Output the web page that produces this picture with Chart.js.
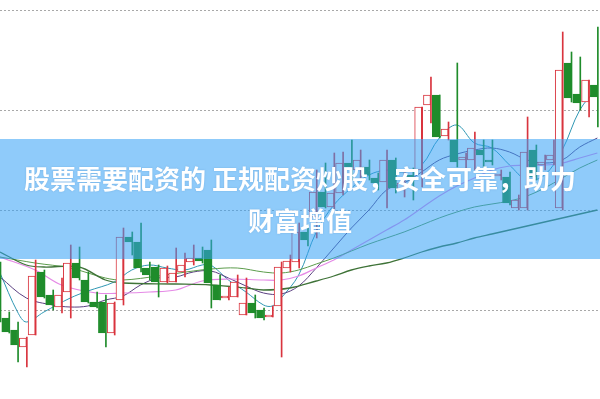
<!DOCTYPE html>
<html>
<head>
<meta charset="utf-8">
<script src="https://cdn.jsdelivr.net/npm/chart.js@4/dist/chart.umd.min.js"></script>
<style>
  html, body { margin: 0; padding: 0; background: #fff; }
  #wrap { position: relative; width: 600px; height: 399px; overflow: hidden; }
  #kline { position: absolute; left: 0; top: 0; }
  #banner {
    position: absolute; left: 0; top: 139px; width: 600px; height: 120px;
    background: rgba(51, 160, 246, 0.55);
  }
  #title {
    position: absolute; left: 0; top: 157px; width: 600px;
    text-align: center; color: #fff;
    font-family: "Noto Sans CJK SC", "Noto Sans", sans-serif;
    font-weight: bold; font-size: 26px; line-height: 42px;
    text-shadow: 0 0 2px rgba(60, 120, 180, 0.35);
  }
</style>
</head>
<body>
<div id="wrap">
  <canvas id="kline" width="600" height="399"></canvas>
  <div id="banner"></div>
  <div id="title">股票需要配资的 正规配资炒股，安全可靠，助力<br>财富增值</div>
</div>
<script>
// K线数据 (开 收 高 低)
var opens = [11.7, 9.2, 8.0, 6.3, 7.5, 13.8, 11.5, 10.3, 11.8, 14.7,
    13.0, 10.8, 10.8, 7.7, 11.0, 17.3, 16.8, 14.2, 14.3, 12.8,
    12.8, 13.8, 14.8, 15.2, 16.0, 12.5, 11.2, 11.3, 9.5, 10.7,
    10.0, 9.3, 10.4, 14.2, 14.8, 17.8, 19.3, 21.8, 20.3, 21.7,
    24.7, 24.0, 24.3, 23.2, 22.8, 25.0, 22.0, 23.5, 24.0, 30.5,
    31.5, 27.4, 27.0, 25.0, 25.0, 26.0, 25.0, 23.4, 23.3, 20.2,
    20.2, 26.0, 24.5, 25.0, 20.2, 34.7, 31.6, 30.8, 32.5];
var closes = [9.5, 7.8, 6.5, 7.2, 13.4, 11.3, 10.5, 11.5, 14.7, 13.2,
    10.8, 10.3, 7.7, 10.7, 17.3, 16.8, 14.2, 13.5, 12.8, 14.2,
    13.7, 14.5, 15.2, 14.9, 12.7, 11.0, 11.4, 12.8, 10.7, 9.7,
    9.2, 9.5, 14.3, 14.9, 17.8, 17.0, 21.8, 20.3, 21.7, 24.7,
    24.3, 25.0, 23.5, 22.7, 25.0, 22.2, 22.7, 23.0, 30.3, 31.5,
    27.3, 28.1, 24.8, 25.3, 26.2, 25.5, 24.8, 23.6, 20.7, 21.0,
    25.8, 23.3, 24.8, 25.5, 34.0, 31.2, 30.7, 33.0, 31.3];
var highs = [14.8, 9.8, 8.8, 7.3, 15.0, 14.0, 12.0, 13.2, 16.5, 16.3,
    13.8, 11.8, 11.5, 10.8, 18.2, 17.8, 18.7, 14.8, 14.5, 14.4,
    16.2, 15.7, 16.5, 16.3, 17.0, 13.5, 12.3, 13.5, 13.2, 11.5,
    10.2, 10.4, 14.8, 15.5, 18.7, 18.5, 24.0, 24.7, 25.7, 25.8,
    27.0, 26.0, 25.0, 23.7, 26.0, 25.2, 24.0, 24.2, 30.3, 33.3,
    31.5, 28.8, 34.7, 25.7, 27.8, 27.0, 27.0, 24.0, 23.8, 21.5,
    29.3, 26.5, 25.5, 27.0, 37.8, 35.8, 35.3, 33.0, 38.3];
var lows = [8.8, 7.7, 4.8, 4.3, 7.5, 11.2, 10.0, 9.7, 9.2, 13.0,
    10.7, 10.2, 6.3, 7.5, 10.5, 15.5, 13.8, 13.0, 11.3, 12.7,
    12.8, 13.3, 14.5, 14.7, 10.2, 11.0, 11.0, 11.3, 9.5, 9.2,
    9.0, 9.3, 5.3, 13.8, 14.2, 16.4, 17.2, 20.2, 20.0, 21.5,
    23.0, 23.2, 23.0, 22.0, 20.2, 21.7, 21.3, 21.0, 22.3, 28.7,
    27.2, 27.0, 24.3, 24.0, 24.0, 24.3, 24.5, 23.0, 20.5, 20.0,
    20.0, 23.0, 24.0, 24.5, 20.0, 30.8, 30.0, 29.3, 28.3];

// 均线 [K线序号, 数值]
var ma5 = [[0, 13.7], [2, 9.8], [3, 8.8], [5, 9.8], [8, 11.2], [10, 11.9], [13, 12.8], [15, 14.0],
    [17, 14.5], [19, 14.2], [21, 14.0], [23, 14.5], [24, 14.5], [26, 13.0], [28, 11.8], [30, 10.5],
    [31, 10.4], [32, 11.2], [34, 13.5], [36, 17.8], [38, 20.5], [40, 22.2], [42, 23.5], [44, 24.0],
    [46, 23.8], [48, 24.5], [50, 27.2], [52, 28.5], [54, 26.7], [56, 26.2], [58, 24.5], [60, 23.0],
    [62, 23.5], [64, 26.0], [66, 30.0], [68, 32.2]];
var ma10 = [[0, 13.3], [3, 11.2], [6, 10.5], [8, 10.3], [10, 10.4], [12, 11.0], [14, 11.4], [16, 12.5],
    [18, 13.2], [20, 13.3], [22, 13.8], [24, 13.9], [26, 13.2], [28, 12.4], [30, 11.7], [32, 11.6],
    [34, 12.4], [36, 14.2], [38, 16.2], [40, 18.2], [42, 20.0], [44, 22.0], [46, 22.7], [48, 23.8],
    [50, 25.0], [52, 25.6], [54, 26.0], [56, 26.2], [58, 25.8], [60, 25.0], [62, 24.7], [64, 25.0],
    [66, 26.3], [68, 27.2]];
var ma20 = [[0, 15.3], [4, 14.0], [7, 12.5], [11, 11.7], [14, 11.7], [17, 11.8], [20, 12.0], [23, 12.9],
    [26, 13.1], [30, 13.0], [32, 13.0], [34, 13.4], [36, 14.2], [38, 15.0], [40, 16.0], [42, 17.0],
    [44, 18.0], [46, 19.0], [48, 20.2], [50, 21.4], [52, 22.4], [54, 23.2], [56, 24.0], [58, 24.4],
    [60, 24.5], [62, 24.5], [64, 24.7], [66, 25.2], [68, 25.7]];
var ma30 = [[0, 15.3], [4, 14.7], [8, 14.2], [12, 13.2], [14, 13.0], [18, 13.4], [22, 13.9], [24, 14.1],
    [27, 14.2], [30, 13.8], [32, 13.7], [34, 14.0], [36, 14.6], [38, 15.2], [40, 15.9], [42, 16.6],
    [44, 17.2], [46, 17.8], [48, 18.5], [50, 19.2], [52, 19.8], [54, 20.3], [56, 20.6], [58, 20.9],
    [60, 21.4], [62, 22.2], [64, 23.2], [66, 24.2], [68, 25.0]];
var ma60 = [[0, 15.8], [3, 14.5], [5, 14.3], [9, 14.3], [12, 13.0], [14, 12.7], [20, 12.6], [24, 12.5],
    [28, 12.2], [30, 12.0], [33, 12.2], [36, 12.9], [38, 13.4], [40, 14.0], [42, 14.4], [44, 14.7],
    [46, 15.2], [48, 15.8], [50, 16.3], [52, 16.7], [54, 17.2], [56, 17.6], [58, 18.0], [60, 18.4],
    [62, 18.8], [64, 19.2], [66, 19.6], [68, 20.0]];

var gridValues = [10, 20, 30, 40];

var UP = '#d9343e', DOWN = '#1f8c2b';

var bodies = [], wicks = [], bodyBg = [], bodyLine = [];
for (var i = 0; i < opens.length; i++) {
    var up = closes[i] >= opens[i];
    bodies.push({x: i, y: [opens[i], closes[i]]});
    wicks.push({x: i, y: [lows[i], highs[i]]});
    bodyBg.push(up ? '#ffffff' : DOWN);
    bodyLine.push(up ? UP : DOWN);
}

function maSet(pts, color, w) {
    return {
        type: 'line',
        data: pts.map(function(p) { return {x: p[0], y: p[1]}; }),
        borderColor: color,
        borderWidth: w,
        pointRadius: 0,
        tension: 0.35,
        order: 3
    };
}

new Chart(document.getElementById('kline'), {
    type: 'bar',
    data: {
        datasets: [
            maSet(ma60, '#3f7338', 1.3),
            maSet(ma30, '#5c9c4c', 1),
            maSet(ma20, '#e58ae6', 1.2),
            maSet(ma10, '#5a3f80', 1),
            maSet(ma5, '#2f97b3', 1),
            {
                data: wicks,
                backgroundColor: bodyLine,
                barThickness: 1,
                order: 2
            },
            {
                data: bodies,
                backgroundColor: bodyBg,
                borderColor: bodyLine,
                borderWidth: 1,
                borderSkipped: false,
                barThickness: 7,
                minBarLength: 2,
                order: 1
            }
        ]
    },
    options: {
        responsive: false,
        animation: false,
        layout: { padding: 0 },
        plugins: { legend: { display: false }, tooltip: { enabled: false } },
        scales: {
            x: {
                type: 'linear',
                min: 0,
                max: 68.3,
                offset: false,
                display: false
            },
            y: {
                min: 1.1,
                max: 41,
                afterBuildTicks: function(axis) {
                    axis.ticks = gridValues.map(function(v) { return {value: v}; });
                },
                ticks: { display: false },
                grid: { color: '#a8a8a8', lineWidth: 1, drawTicks: false },
                border: { display: false, dash: [2, 2] }
            }
        }
    }
});
</script>
</body>
</html>
